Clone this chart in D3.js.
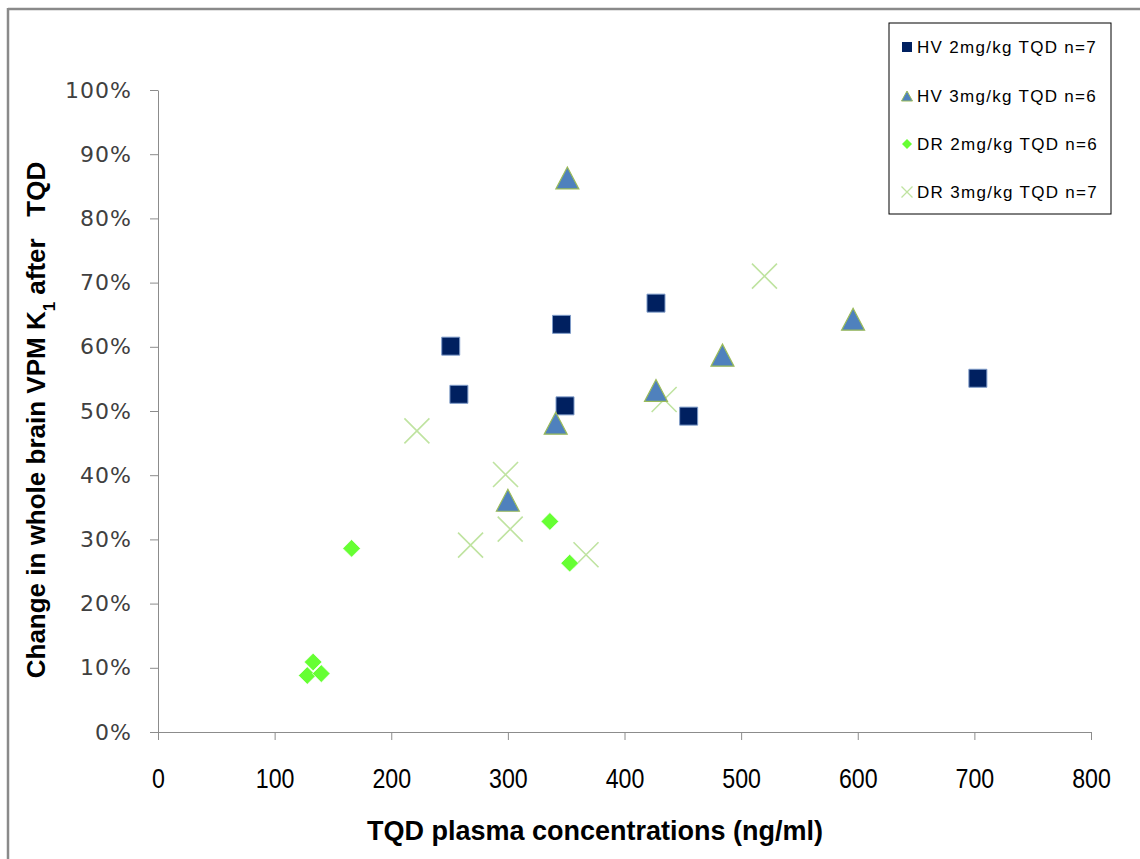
<!DOCTYPE html>
<html>
<head>
<meta charset="utf-8">
<script src="https://cdn.jsdelivr.net/npm/d3@7"></script>
<style>
  body { margin: 0; background: #fff; }
  svg { display: block; }
</style>
</head>
<body>
<svg id="chart" width="1140" height="859"></svg>
<script>
// x = TQD plasma concentration (ng/ml), y = fractional change in K1
const hv2 = [[251, 0.601], [258, 0.526], [346, 0.635], [349, 0.508], [427, 0.668], [455, 0.492], [703, 0.551]];
const hv3 = [[351, 0.863], [341, 0.481], [300, 0.361], [427, 0.532], [484, 0.587], [596, 0.643]];
const dr2 = [[166, 0.286], [133, 0.109], [128, 0.088], [140, 0.091], [336, 0.328], [353, 0.263]];
const dr3 = [[222, 0.469], [268, 0.291], [298, 0.401], [302, 0.316], [367, 0.276], [434, 0.518], [520, 0.710]];

const seriesNames = ["HV 2mg/kg TQD n=7", "HV 3mg/kg TQD n=6", "DR 2mg/kg TQD n=6", "DR 3mg/kg TQD n=7"];
const xTicks = [0, 100, 200, 300, 400, 500, 600, 700, 800];
const yTicks = [0, 0.1, 0.2, 0.3, 0.4, 0.5, 0.6, 0.7, 0.8, 0.9, 1.0];

const svg = d3.select('#chart');
const AXIS = '#8c8c8c';
const TITLE_FONT = '"Liberation Sans Narrow", "Arial Narrow", "Liberation Sans", sans-serif';

// outer frame (only top and left edges show)
svg.append('line').attr('x1', 8).attr('x2', 1140).attr('y1', 9).attr('y2', 9)
    .attr('stroke', '#8a8a8a').attr('stroke-width', 2.5);
svg.append('line').attr('x1', 8).attr('x2', 8).attr('y1', 8).attr('y2', 859)
    .attr('stroke', '#8a8a8a').attr('stroke-width', 2.5);

let xScale = d3.scaleLinear().domain([0, 800]).range([158, 1091]);
let yScale = d3.scaleLinear().domain([0, 1]).range([732, 90]);

// x axis
let gx = svg.append('g')
    .attr('transform', `translate(0,${yScale(0)})`)
    .call(d3.axisBottom(xScale).tickValues(xTicks).tickSize(8).tickSizeOuter(0).tickPadding(29));
gx.select('.domain').attr('stroke', AXIS);
gx.selectAll('.tick line').attr('stroke', AXIS);
gx.selectAll('.tick text')
    .attr('font-family', TITLE_FONT)
    .attr('font-size', 27).attr('fill', '#000')
    .attr('transform', 'scale(0.86,1)');

// y axis
let gy = svg.append('g')
    .attr('transform', `translate(${xScale(0)},0)`)
    .call(d3.axisLeft(yScale).tickValues(yTicks).tickSize(8).tickSizeOuter(0).tickPadding(18)
        .tickFormat(d3.format('.0%')));
gy.select('.domain').attr('stroke', AXIS);
gy.selectAll('.tick line').attr('stroke', AXIS);
gy.selectAll('.tick text')
    .attr('font-family', '"DejaVu Sans", Verdana, sans-serif')
    .attr('font-size', 22).attr('letter-spacing', 1).attr('fill', '#404040');

// axis titles
svg.append('text')
    .attr('x', 595).attr('y', 840)
    .attr('text-anchor', 'middle')
    .attr('font-family', TITLE_FONT)
    .attr('font-weight', 'bold').attr('font-size', 27)
    .text('TQD plasma concentrations (ng/ml)');

let yTitle = svg.append('text')
    .attr('transform', 'translate(45,420) rotate(-90)')
    .attr('text-anchor', 'middle')
    .style('white-space', 'pre')
    .attr('font-family', TITLE_FONT)
    .attr('font-weight', 'bold').attr('font-size', 26);
yTitle.append('tspan').text('Change in whole brain VPM K');
yTitle.append('tspan').attr('baseline-shift', 'sub').attr('font-size', 17).text('1');
yTitle.append('tspan').text(' after   TQD');

// marker shapes
const sq = d3.symbol().type(d3.symbolSquare);

// DR 3mg/kg crosses
svg.append('g').selectAll('path').data(dr3).join('path')
    .attr('transform', d => `translate(${xScale(d[0])},${yScale(d[1])})`)
    .attr('d', 'M-12.5,-12.5L12.5,12.5M-12.5,12.5L12.5,-12.5')
    .attr('fill', 'none').attr('stroke', '#bfe3a0').attr('stroke-width', 1.6);

// DR 2mg/kg diamonds
svg.append('g').selectAll('path').data(dr2).join('path')
    .attr('transform', d => `translate(${xScale(d[0])},${yScale(d[1])}) rotate(45)`)
    .attr('d', sq.size(12.5 * 12.5))
    .attr('fill', '#66ff33').attr('stroke', '#fff').attr('stroke-width', 0.6);

// HV 2mg/kg squares
svg.append('g').selectAll('path').data(hv2).join('path')
    .attr('transform', d => `translate(${xScale(d[0])},${yScale(d[1])})`)
    .attr('d', sq.size(18 * 18))
    .attr('fill', '#002060').attr('stroke', '#7f9cc9').attr('stroke-width', 1);

// HV 3mg/kg triangles
svg.append('g').selectAll('path').data(hv3).join('path')
    .attr('transform', d => `translate(${xScale(d[0])},${yScale(d[1])})`)
    .attr('d', 'M0,-11L11.5,11L-11.5,11Z')
    .attr('fill', '#4f81bd').attr('stroke', '#9bbb59').attr('stroke-width', 1.2);

// legend
let legend = svg.append('g').attr('transform', 'translate(889,23)');
legend.append('rect').attr('width', 222).attr('height', 191)
    .attr('fill', '#fff').attr('stroke', '#000').attr('stroke-width', 1);

const legendY = [24, 73, 121, 169];
let rows = legend.selectAll('g.row').data(seriesNames).join('g')
    .attr('class', 'row')
    .attr('transform', (d, i) => `translate(18,${legendY[i]})`);

rows.append('path')
    .attr('d', (d, i) => [
        sq.size(100)(),
        'M0,-5L5.5,5L-5.5,5Z',
        sq.size(50)(),
        'M-5.5,-5.5L5.5,5.5M-5.5,5.5L5.5,-5.5'
    ][i])
    .attr('transform', (d, i) => i === 2 ? 'rotate(45)' : null)
    .attr('fill', (d, i) => ['#002060', '#4f81bd', '#66ff33', 'none'][i])
    .attr('stroke', (d, i) => ['none', '#9bbb59', 'none', '#bfe3a0'][i])
    .attr('stroke-width', (d, i) => i === 3 ? 1.3 : 1);

rows.append('text')
    .attr('x', 10).attr('y', 6)
    .attr('font-family', '"Liberation Sans", Arial, sans-serif')
    .attr('font-size', 17).attr('letter-spacing', 1.3).attr('fill', '#000')
    .text(d => d);
</script>
</body>
</html>
